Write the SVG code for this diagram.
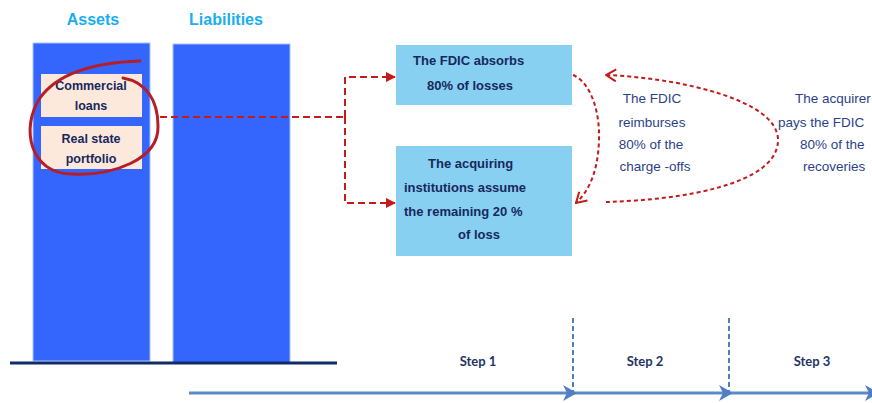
<svg xmlns="http://www.w3.org/2000/svg" width="872" height="403" viewBox="0 0 872 403">
<defs>
<style>
.title{font-family:"Liberation Sans",Arial,sans-serif;font-weight:bold;font-size:16px;fill:#1AAEEE;text-anchor:middle}
.bar{fill:#3466FD;stroke:#A9C2FF;stroke-width:1}
.item{fill:#FCE9DC}
.itxt{font-family:"Liberation Sans",Arial,sans-serif;font-weight:bold;font-size:12.5px;fill:#16285C;text-anchor:middle}
.box{fill:#88D0F2}
.btxt{font-family:"Liberation Sans",Arial,sans-serif;font-weight:bold;font-size:13px;fill:#16285C}
.note{font-family:"Liberation Sans",Arial,sans-serif;font-size:13.5px;fill:#2B3F8A}
.step{font-family:Lato,"Liberation Sans",sans-serif;font-weight:bold;font-size:13px;fill:#1F3566;text-anchor:middle}
.red{fill:none;stroke:#C41A1A;stroke-width:2;stroke-dasharray:7 4}
.redc{fill:none;stroke:#C41A1A;stroke-width:2;stroke-dasharray:4 3}
.vdash{stroke:#4F7FBF;stroke-width:2;stroke-dasharray:5 3}
.tl{stroke:#5B8BC7;stroke-width:3}
</style>
<marker id="tri" viewBox="0 0 10 10" refX="9" refY="5" markerWidth="10" markerHeight="10" markerUnits="userSpaceOnUse" orient="auto">
<path d="M0,0 L10,5 L0,10 z" fill="#C41A1A"/>
</marker>
<marker id="chev" viewBox="0 0 12 14" refX="11" refY="7" markerWidth="12" markerHeight="14" markerUnits="userSpaceOnUse" orient="auto">
<path d="M1,1 L11,7 L1,13" fill="none" stroke="#C41A1A" stroke-width="2"/>
</marker>
<marker id="blue" viewBox="0 0 14 16" refX="13" refY="8" markerWidth="14" markerHeight="16" markerUnits="userSpaceOnUse" orient="auto">
<path d="M0,0 L14,8 L0,16 L4,8 z" fill="#4F7FC2"/>
</marker>
</defs>

<text class="title" x="93" y="25">Assets</text>
<text class="title" x="226" y="25">Liabilities</text>

<g id="assets">
<rect class="bar" x="33" y="43" width="117" height="318"/>
</g>
<g id="liabilities">
<rect class="bar" x="173" y="44" width="117" height="319"/>
</g>
<g id="commercial-loans">
<rect class="item" x="41" y="74" width="101" height="43"/>
<text class="itxt" x="91" y="90">Commercial</text>
<text class="itxt" x="91" y="110">loans</text>
</g>
<g id="real-state">
<rect class="item" x="41" y="126" width="101" height="43"/>
<text class="itxt" x="91" y="143">Real state</text>
<text class="itxt" x="91" y="163">portfolio</text>
</g>
<line x1="10" y1="363" x2="337" y2="363" stroke="#102C68" stroke-width="3"/>

<path id="circle" d="M140,61 C110,62 62,67 40,98 C20,128 30,174 72,174 C112,176 159,160 158,126 C158,100 146,82 123,78" fill="none" stroke="#B51E24" stroke-width="3" stroke-linecap="round"/>

<g id="fdic-absorbs">
<rect class="box" x="396" y="45" width="176" height="60"/>
<text class="btxt" x="413" y="65">The FDIC absorbs</text>
<text class="btxt" x="427" y="90">80% of losses</text>
</g>
<g id="acquiring">
<rect class="box" x="396" y="146" width="176" height="110"/>
<text class="btxt" x="428" y="168">The acquiring</text>
<text class="btxt" x="404" y="192">institutions assume</text>
<text class="btxt" x="404" y="216">the remaining 20 %</text>
<text class="btxt" x="458" y="239">of loss</text>
</g>

<g id="note-reimburse">
<text class="note" x="652" y="103" text-anchor="middle">The FDIC</text>
<text class="note" x="652" y="127" text-anchor="middle">reimburses</text>
<text class="note" x="651" y="149" text-anchor="middle">80% of the</text>
<text class="note" x="655" y="171" text-anchor="middle">charge  -offs</text>
</g>
<g id="note-recoveries">
<text class="note" x="795" y="103">The acquirer</text>
<text class="note" x="778" y="127">pays the FDIC</text>
<text class="note" x="800" y="149">80% of the</text>
<text class="note" x="803" y="171">recoveries</text>
</g>

<g id="connectors">
<path class="red" d="M160,117 L345,117"/>
<path class="red" d="M345,117 L345,77 L395,77" marker-end="url(#tri)"/>
<path class="red" d="M345,117 L345,203 L395,203" marker-end="url(#tri)"/>
<path class="redc" d="M573,75 C590,82 600,110 599,140 C598,170 590,190 576,203" marker-end="url(#chev)"/>
<path class="redc" d="M606,202 C680,200 778,185 778,140 C778,100 680,78 606,75" marker-end="url(#chev)"/>

<line class="vdash" x1="573" y1="318" x2="573" y2="393"/>
<line class="vdash" x1="729" y1="318" x2="729" y2="393"/>
<line class="tl" x1="189" y1="393" x2="576" y2="393" marker-end="url(#blue)"/>
<line class="tl" x1="576" y1="393" x2="732" y2="393" marker-end="url(#blue)"/>
<line class="tl" x1="732" y1="393" x2="878" y2="393" marker-end="url(#blue)"/>
</g>

<text class="step" x="478" y="366">Step 1</text>
<text class="step" x="645" y="366">Step 2</text>
<text class="step" x="812" y="366">Step 3</text>
</svg>
